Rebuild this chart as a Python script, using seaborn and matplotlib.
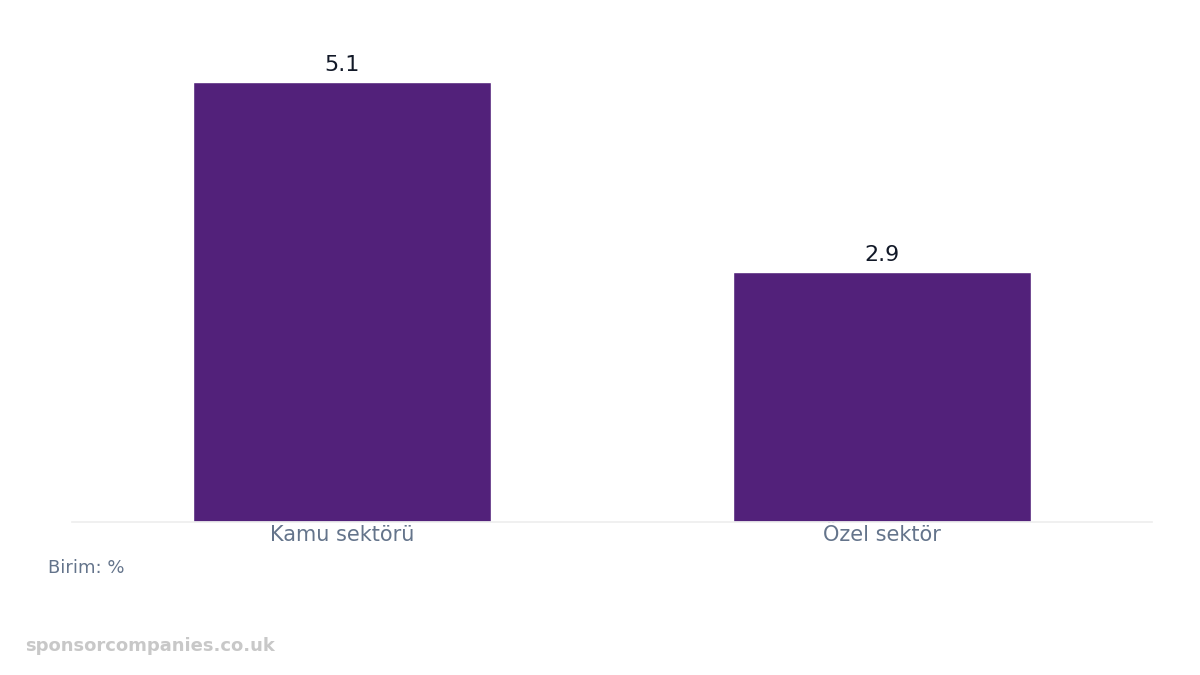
import matplotlib
matplotlib.use("Agg")
import matplotlib.pyplot as plt
import seaborn as sns
import pandas as pd

categories = ["Kamu sektörü", "Özel sektör"]
values = [5.1, 2.9]
labels = ["5.1", "2.9"]

sns.set_theme(style="white")
plt.rcParams['font.family'] = ['DejaVu Sans']
fig = plt.figure(figsize=(12, 6.75), dpi=100)
ax = fig.add_axes([0.06, 1-522/675, 0.90, (522-40)/675])
df = pd.DataFrame({"cat": categories, "val": values})
sns.barplot(data=df, x="cat", y="val", color="#52217a", width=0.552, saturation=1, ax=ax)
ax.set_xlim(-0.5, 1.5)
ax.set_ylim(0, 482/440*5.1)
for i, (v, l) in enumerate(zip(values, labels)):
    ax.text(i, v + 0.08, l, ha="center", va="bottom", fontsize=16, color="#111827")
for s in ["top", "right", "left"]:
    ax.spines[s].set_visible(False)
ax.spines["bottom"].set_color("#eeeeee")
ax.set_yticks([])
ax.set_xlabel(""); ax.set_ylabel("")
ax.tick_params(axis="x", length=0, pad=2, labelsize=15, labelcolor="#64748b")
fig.text(48/1200, 1-568/675, "Birim: %", fontsize=13, color="#64748b", va="center")
fig.text(25/1200, 1-646/675, "sponsorcompanies.co.uk", fontsize=13, color="#c8c8c8",
         fontweight="bold", va="center")
fig.savefig("out.png", dpi=100, facecolor="white")
